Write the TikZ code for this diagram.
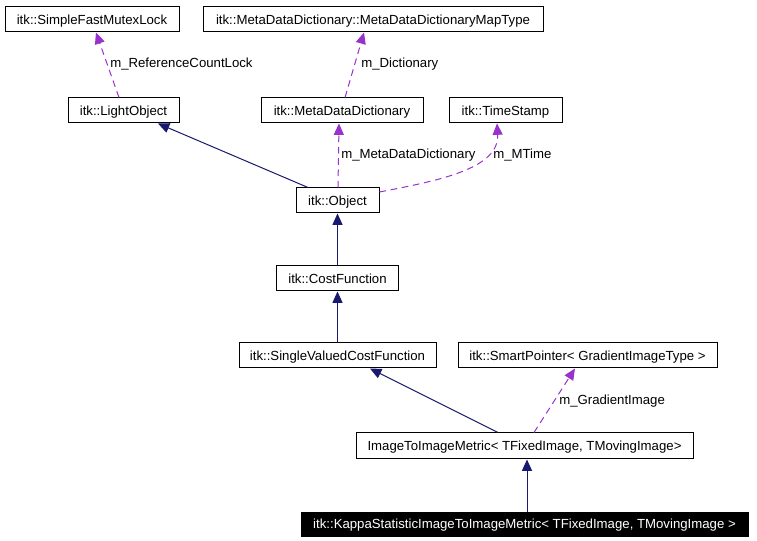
\documentclass[tikz,border=0pt]{standalone}
\usepackage{fontspec}
\setmainfont{Liberation Sans}
\usetikzlibrary{arrows.meta,calc}
\definecolor{inhcol}{RGB}{25,25,112}
\definecolor{usecol}{RGB}{153,50,204}
\begin{document}
\begin{tikzpicture}[x=0.75pt,y=-0.75pt,
  box/.style={draw=black,line width=0.75pt,fill=white,inner sep=0pt,minimum height=18.75pt,text height=7.1pt,text depth=0pt,font=\fontsize{9.9}{11}\selectfont},
  inh/.style={draw=inhcol,line width=0.75pt,-{Triangle[length=8.5pt,width=7.5pt]}},
  use/.style={draw=usecol,line width=0.75pt,dash pattern=on 5pt off 3.5pt,-{Triangle[length=8.5pt,width=7.5pt]}},
  lbl/.style={anchor=west,inner sep=0pt,text height=7.1pt,text depth=0pt,font=\fontsize{9.9}{11}\selectfont}]
\useasboundingbox[fill=white] (0,0) rectangle (757,541);
\node[box,minimum width=130.5pt] (sfml) at (92,19.5) {itk::SimpleFastMutexLock};
\node[box,minimum width=255pt] (mdmt) at (373,19.5) {itk::MetaDataDictionary::MetaDataDictionaryMapType};
\node[box,minimum width=83.25pt] (lo) at (123.5,110.5) {itk::LightObject};
\node[box,minimum width=121.5pt] (mdd) at (342,110.5) {itk::MetaDataDictionary};
\node[box,minimum width=84.75pt] (ts) at (505.5,110.5) {itk::TimeStamp};
\node[box,minimum width=62.25pt] (obj) at (337.5,200.5) {itk::Object};
\node[box,minimum width=91.5pt] (cf) at (337.5,278.5) {itk::CostFunction};
\node[box,minimum width=147.75pt] (svcf) at (337.5,355.5) {itk::SingleValuedCostFunction};
\node[box,minimum width=194.25pt] (sp) at (587.5,355.5) {itk::SmartPointer< GradientImageType >};
\node[box,minimum width=252.75pt,minimum height=19.5pt] (itim) at (524.5,446) {ImageToImageMetric< TFixedImage, TMovingImage>};
\node[box,fill=black,text=white,minimum width=335.25pt,minimum height=18pt] (kappa) at (524.5,524) {itk::KappaStatisticImageToImageMetric< TFixedImage, TMovingImage >};

\draw[use] ($(lo.north)+(-4.5,0)$) -- ($(sfml.south)+(4,0)$);
\draw[use] ($(mdd.north)+(3,0)$) -- ($(mdmt.south)+(-9,0)$);
\draw[inh] ($(obj.north)+(-29.5,0)$) -- ($(lo.south)+(34.5,0)$);
\draw[use] ($(obj.north)+(0.5,0)$) -- ($(mdd.south)+(-3,0)$);
\draw[use] ($(obj.east)+(0,-8.5)$) .. controls ($(obj.east)+(60,-20)$) and ($(ts.south)+(-6,45)$) .. ($(ts.south)+(-8.5,0)$);
\draw[inh] (cf.north) -- (obj.south);
\draw[inh] (svcf.north) -- (cf.south);
\draw[inh] ($(itim.north)+(-26.5,0)$) -- ($(svcf.south)+(32.5,0)$);
\draw[use] ($(itim.north)+(9.5,0)$) -- ($(sp.south)+(-12.5,0)$);
\draw[inh] ($(kappa.north)+(2.5,0)$) -- ($(itim.south)+(2.5,0)$);

\node[lbl] (l1) at (110,63) {m\_ReferenceCountLock};
\node[lbl] (l2) at (361,63) {m\_Dictionary};
\node[lbl] (l3) at (341,154) {m\_MetaDataDictionary};
\node[lbl] (l4) at (493,154) {m\_MTime};
\node[lbl] (l5) at (559,399.5) {m\_GradientImage};
\end{tikzpicture}
\end{document}
